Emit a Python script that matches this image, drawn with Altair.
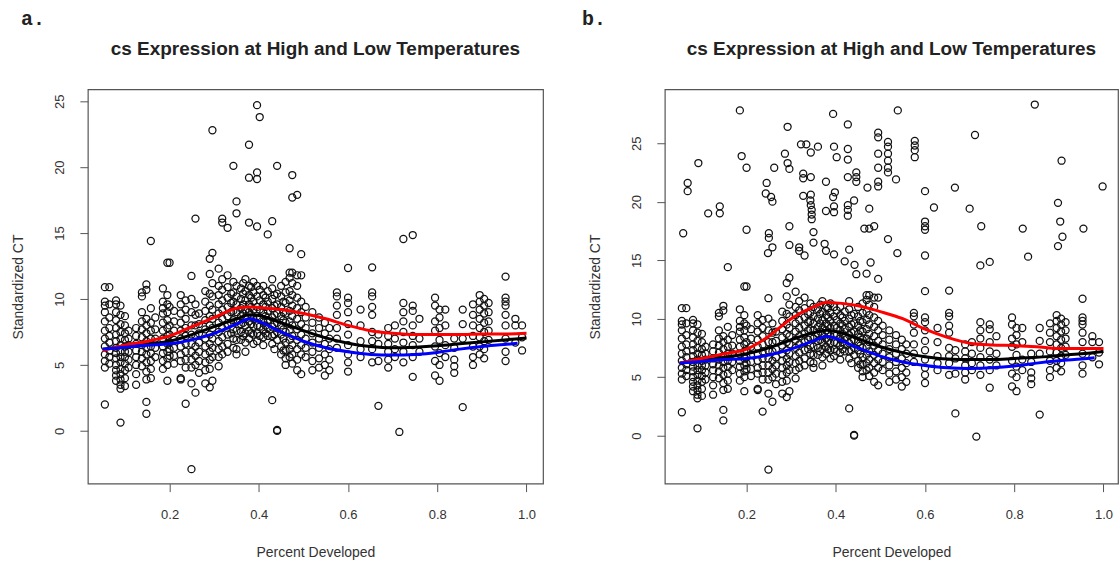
import altair as alt
import pandas as pd

# ---- shared scatter (Percent Developed, [Standardized CT values]) ----
cols_early = [
    (0.055, [10.9, 9.8, 9.5, 9.0, 8.3, 7.6, 7.0, 6.4, 5.8, 5.3, 4.8, 2.0]),
    (0.065, [10.9, 9.6, 8.6, 7.8, 7.2, 6.7, 6.1, 5.6, 5.1]),
    (0.08, [9.9, 9.6, 9.0, 8.4, 7.8, 7.3, 6.8, 6.3, 5.9, 5.5, 5.0, 4.6, 4.2, 3.8]),
    (0.09, [9.5, 8.8, 8.1, 7.5, 7.0, 6.5, 6.0, 5.6, 5.2, 4.7, 4.3, 3.9, 3.5, 3.2, 0.63]),
    (0.1, [8.7, 8.0, 7.4, 6.9, 6.4, 6.0, 5.6, 5.1, 4.6, 4.0, 3.4]),
    (0.108, [7.6, 7.0, 6.5, 6.0, 5.4, 4.8]),
    (0.125, [7.8, 7.2, 6.6, 6.1, 5.6, 5.0, 4.3, 3.5]),
    (0.138, [10.5, 10.2, 9.0, 8.3, 7.7, 7.1, 6.5, 6.0, 5.5, 4.9]),
    (0.148, [11.1, 10.7, 8.5, 8.0, 7.4, 6.8, 6.3, 5.8, 5.2, 4.5, 3.9, 2.2, 1.3]),
    (0.158, [14.4, 9.3, 8.2, 7.6, 7.0, 6.4, 5.9, 5.3, 4.7, 4.0]),
    (0.168, [8.6, 7.7, 7.0, 6.3, 5.6]),
    (0.185, [10.8, 9.8, 9.3, 8.9, 8.2, 7.6, 7.0, 6.4, 5.9, 5.3, 4.7]),
    (0.195, [12.75, 10.3, 9.6, 9.0, 8.4, 7.8, 7.2, 6.6, 6.0, 5.5, 5.0, 3.8]),
]
cols_mid = [
    (0.2, [12.75, 9.4, 8.0, 7.3, 6.7, 6.2, 5.7]),
    (0.21, [9.1, 8.3, 7.6, 6.9, 6.3, 5.7, 5.1]),
    (0.225, [10.3, 9.6, 8.9, 8.2, 7.6, 7.0, 6.4, 5.8, 5.3, 4.0, 3.9]),
    (0.236, [9.9, 9.2, 8.5, 7.8, 7.2, 6.6, 6.0, 5.4, 4.8, 2.06]),
    (0.249, [11.75, 10.0, 9.0, 8.0, 7.3, 6.6, 6.0, 5.4, 4.8, 3.6, -2.9]),
    (0.258, [16.1, 9.6, 8.8, 8.0, 7.2, 6.4, 5.7, 5.0, 2.9]),
    (0.266, [8.9, 8.1, 7.4, 6.7, 6.0, 5.3, 4.4]),
    (0.28, [10.6, 9.8, 9.1, 8.4, 7.7, 7.0, 6.4, 5.8, 5.2, 4.6, 3.6]),
    (0.29, [13.05, 11.9, 10.4, 9.5, 8.7, 8.0, 7.3, 6.6, 6.0, 5.4, 4.7, 3.3]),
    (0.296, [22.8, 13.5, 11.2, 10.2, 9.2, 8.5, 7.8, 7.0, 6.3, 5.6, 3.8]),
    (0.31, [12.3, 11.0, 10.3, 9.6, 8.9, 8.2, 7.5, 6.8, 6.2, 5.6, 4.9]),
    (0.318, [16.1, 15.8, 11.5, 10.7, 9.9, 9.2, 8.5, 7.8, 7.1, 6.4, 5.8]),
    (0.33, [15.4, 11.8, 10.9, 10.1, 9.4, 8.7, 8.0, 7.3, 6.6, 6.0]),
    (0.338, [10.4, 9.7, 9.0, 8.2, 7.4]),
    (0.343, [20.1, 11.3, 10.5, 9.8, 9.1, 8.4, 7.7, 7.0, 6.3]),
    (0.35, [17.4, 16.5, 11.0, 10.2, 9.6, 9.0, 8.3, 7.6, 6.9, 6.2, 5.8]),
    (0.36, [10.8, 10.0, 9.3, 8.7, 8.1, 7.5, 6.9]),
    (0.365, [11.2, 10.4, 9.6, 8.9, 8.2, 7.2]),
    (0.37, [11.5, 10.6, 9.9, 9.2, 8.6, 8.0, 7.4, 6.7, 6.0]),
    (0.378, [21.7, 19.2, 15.8, 11.0, 10.3, 9.6, 9.0, 8.3, 7.6, 7.0]),
    (0.383, [10.9, 10.1, 9.4, 8.8, 8.1, 7.4]),
    (0.388, [11.3, 10.5, 9.8, 9.2, 8.5, 7.9, 7.3, 6.6]),
    (0.396, [24.7, 19.6, 19.1, 15.5, 11.0, 10.2, 9.4, 8.7, 8.0, 7.4, 6.8]),
    (0.402, [23.8, 10.7, 9.9, 9.2, 8.6, 7.9, 7.2]),
]
cols_late = [
    (0.41, [11.0, 10.3, 9.6, 9.0, 8.3, 7.7, 7.1, 6.5]),
    (0.415, [10.1, 9.4, 8.7, 8.0, 7.4]),
    (0.42, [14.9, 10.6, 9.8, 9.1, 8.4, 7.8, 7.2]),
    (0.43, [15.9, 11.5, 10.8, 10.0, 9.3, 8.6, 7.9, 7.2, 6.6, 2.33]),
    (0.435, [10.3, 9.5, 8.8, 8.1, 7.3, 6.2]),
    (0.441, [20.1, 10.4, 9.6, 8.9, 8.2, 7.5, 6.9, 0.07, 0.0]),
    (0.45, [11.0, 10.2, 9.4, 8.7, 8.0, 7.3, 6.4, 5.8]),
    (0.455, [9.8, 9.0, 8.4, 7.7, 7.0, 6.1]),
    (0.46, [11.3, 10.5, 9.7, 8.9, 8.2, 7.5, 6.7, 6.1, 5.5, 5.0]),
    (0.469, [13.85, 12.0, 11.6, 10.6, 9.9, 9.1, 8.3, 7.6, 6.9, 6.2, 5.6]),
    (0.475, [19.4, 17.7, 12.0, 11.2, 10.3, 9.5, 8.7, 8.0, 7.2, 6.5, 5.8, 5.1]),
    (0.486, [17.9, 11.8, 11.0, 10.1, 9.3, 8.5, 7.7, 6.9, 6.2, 5.4, 4.6]),
    (0.495, [13.4, 11.8, 9.8, 9.0, 8.1, 7.3, 6.5, 5.8, 4.3]),
    (0.505, [9.4, 8.6, 7.8, 7.0, 6.3, 5.6]),
    (0.52, [9.0, 8.2, 7.4, 6.7, 6.0, 5.3, 4.6]),
    (0.535, [8.6, 7.8, 7.0, 6.3, 5.5, 4.8]),
    (0.548, [8.2, 7.4, 6.6, 5.8, 5.0, 4.2]),
    (0.558, [7.8, 7.0, 6.2, 5.4, 4.6]),
    (0.575, [10.5, 10.2, 9.5, 8.8, 7.8, 7.0, 6.3]),
    (0.6, [12.35, 10.1, 9.7, 9.0, 8.1, 7.3, 6.5, 5.8, 5.2, 4.5]),
    (0.628, [9.2, 8.0, 6.8, 6.2, 5.6]),
    (0.654, [12.4, 10.5, 10.2, 9.4, 8.8, 7.5, 6.8, 6.2, 5.2]),
    (0.668, [7.3, 6.6, 5.3, 1.9]),
    (0.69, [7.8, 7.2, 6.6, 6.0, 5.4, 4.8]),
]
cols_end = [
    (0.705, [8.0, 7.0, 6.2, 5.6]),
    (0.715, [-0.08]),
    (0.724, [14.55, 9.7, 9.0, 8.3, 7.5, 6.7, 6.0, 5.2]),
    (0.745, [14.85, 9.5, 9.1, 8.0, 7.2, 6.5, 5.6, 4.1]),
    (0.76, [8.5, 7.0, 6.0]),
    (0.795, [10.1, 9.5, 8.3, 7.6, 6.4, 5.3, 4.2]),
    (0.805, [9.2, 8.6, 7.8, 6.9, 5.9, 5.0, 3.8]),
    (0.818, [9.2, 8.0, 6.5, 5.6]),
    (0.838, [7.0, 6.3, 5.4, 4.9, 4.4]),
    (0.857, [9.2, 8.1, 7.0, 1.8]),
    (0.88, [9.6, 8.8, 8.0, 7.2, 6.4, 5.6, 5.0]),
    (0.895, [10.3, 9.8, 9.2, 8.5, 7.8, 7.1, 6.4, 5.8]),
    (0.905, [10.0, 9.5, 8.9, 8.2, 7.5, 6.8, 6.2, 5.5]),
    (0.915, [9.7, 9.0, 8.3, 7.6, 6.9]),
    (0.953, [11.7, 10.1, 9.8, 9.5, 8.8, 8.0, 7.0, 6.0, 5.3]),
    (0.975, [8.5, 8.0, 6.7]),
    (0.99, [8.0, 7.1, 6.1]),
]

# ---- extra high-temperature points only in panel b ----
hi_b_left = [
    (0.058, 17.3), (0.068, 21.6), (0.068, 20.9), (0.092, 23.3), (0.114, 19.0),
    (0.14, 19.6), (0.14, 19.0), (0.185, 27.8), (0.189, 23.9), (0.2, 22.9),
    (0.2, 17.6), (0.243, 20.7), (0.245, 21.6), (0.25, 17.3), (0.25, 16.9),
    (0.248, 15.6), (0.255, 20.4), (0.258, 20.0), (0.262, 22.9), (0.286, 24.1),
    (0.292, 26.4), (0.292, 23.3), (0.296, 17.9), (0.296, 16.3), (0.322, 24.9),
    (0.327, 22.4), (0.327, 22.0), (0.327, 20.5), (0.334, 24.9), (0.344, 24.2),
    (0.344, 22.1), (0.344, 20.6), (0.344, 19.7), (0.346, 19.3), (0.346, 18.9),
    (0.346, 18.5), (0.36, 24.7), (0.375, 16.4), (0.394, 27.5), (0.394, 20.4),
    (0.398, 20.8), (0.427, 26.6), (0.427, 24.5), (0.427, 23.6), (0.427, 22.1),
    (0.427, 19.7), (0.427, 19.3), (0.427, 18.8),
]
hi_b_right = [
    (0.446, 22.5), (0.446, 22.1), (0.446, 21.7), (0.442, 14.6), (0.446, 13.8),
    (0.464, 17.7), (0.471, 21.2), (0.478, 14.8), (0.495, 25.9), (0.495, 25.5),
    (0.495, 24.1), (0.495, 22.9), (0.495, 21.7), (0.495, 21.3), (0.517, 25.1),
    (0.517, 24.7), (0.517, 24.1), (0.517, 23.5), (0.517, 22.9), (0.517, 22.5),
    (0.517, 16.8), (0.535, 21.9), (0.538, 15.6), (0.539, 27.8), (0.577, 25.2),
    (0.577, 24.8), (0.577, 24.4), (0.577, 23.8), (0.6, 20.9), (0.6, 18.3),
    (0.6, 17.9), (0.6, 17.6), (0.6, 15.4), (0.62, 19.5), (0.667, 21.2),
    (0.7, 19.4), (0.712, 25.7), (0.726, 17.9), (0.819, 17.7), (0.831, 15.3),
    (0.846, 28.3), (0.898, 19.9), (0.903, 18.3), (0.908, 17.0), (0.898, 16.2),
    (0.906, 23.5), (0.955, 17.7), (0.998, 21.3),
]

# ---- smoothed curves ----
curve_x = [0.05, 0.1, 0.15, 0.2, 0.25, 0.3, 0.35, 0.38, 0.4, 0.45, 0.5,
           0.55, 0.6, 0.65, 0.7, 0.75, 0.8, 0.85, 0.9, 0.95, 1.0]
blue_y = [6.2, 6.35, 6.5, 6.6, 6.9, 7.4, 8.1, 8.5, 8.3, 7.5, 6.8,
          6.3, 6.0, 5.8, 5.75, 5.8, 5.95, 6.2, 6.4, 6.55, None]
blue_end = (0.98, 6.65)
red_a_y = [6.1, 6.5, 6.8, 7.2, 7.9, 8.6, 9.3, 9.4, 9.35, 9.2, 8.9,
           8.5, 8.0, 7.6, 7.4, 7.3, 7.3, 7.3, 7.35, 7.35, 7.4]
black_a_y = [6.2, 6.4, 6.6, 6.8, 7.3, 7.9, 8.5, 8.8, 8.75, 8.2, 7.6,
             7.05, 6.65, 6.4, 6.3, 6.35, 6.45, 6.6, 6.75, 6.9, 7.05]
red_b_y = [6.2, 6.6, 7.0, 7.4, 8.5, 10.0, 11.0, 11.4, 11.35, 11.1, 10.6,
           10.0, 9.1, 8.4, 7.9, 7.75, 7.7, 7.6, 7.45, 7.45, 7.45]
black_b_y = [6.2, 6.45, 6.7, 7.0, 7.5, 8.2, 8.8, 9.0, 8.9, 8.3, 7.6,
             7.1, 6.75, 6.55, 6.5, 6.5, 6.6, 6.7, 6.85, 7.0, 7.2]

TITLE = "cs Expression at High and Low Temperatures"
FONT = "Liberation Sans"


def cols_to_rows(cols):
    return [(x, y) for x, ys in cols for y in ys]


base_rows = cols_to_rows(cols_early) + cols_to_rows(cols_mid) + cols_to_rows(cols_late) + cols_to_rows(cols_end)
df_a = pd.DataFrame(base_rows, columns=["x", "y"])
df_b = pd.DataFrame(base_rows + hi_b_left + hi_b_right, columns=["x", "y"])


def curve_df(ys, extra=None):
    rows = [(x, y) for x, y in zip(curve_x, ys) if y is not None]
    if extra:
        rows.append(extra)
    return pd.DataFrame(rows, columns=["x", "y"])


def panel(df, red_y, black_y, ydom, width, xdom, tag, tag_x):
    H = 395
    xs = alt.Scale(domain=xdom, nice=False, zero=False)
    ys = alt.Scale(domain=ydom, nice=False, zero=False)
    xaxis = alt.Axis(values=[0.2, 0.4, 0.6, 0.8, 1.0], format=".1f", title="Percent Developed",
                     domain=False, grid=False, tickSize=8, tickColor="#555", labelFontSize=13,
                     labelColor="#333", labelFont=FONT, labelBaseline="middle", labelPadding=23,
                     titleFont=FONT, titleFontSize=14, titleFontWeight="normal", titleColor="#333",
                     titleY=69, titleBaseline="middle", labelFlush=False)
    yaxis = alt.Axis(values=[0, 5, 10, 15, 20, 25], format="d", title="Standardized CT",
                     domain=False, grid=False, tickSize=8, tickColor="#555", labelFontSize=13,
                     labelColor="#333", labelFont=FONT, labelAngle=270, labelAlign="center",
                     labelBaseline="middle", labelPadding=20, titleFont=FONT, titleFontSize=14,
                     titleFontWeight="normal", titleColor="#333", titleAngle=270, titleX=-69,
                     titleY=H / 2, titleAlign="center", titleBaseline="middle", labelFlush=False)
    pts = alt.Chart(df).mark_point(shape="circle", filled=False, size=50, strokeWidth=1.25,
                                   color="#111111", opacity=1).encode(
        x=alt.X("x:Q", scale=xs, axis=xaxis), y=alt.Y("y:Q", scale=ys, axis=yaxis))

    def line(d, color):
        return alt.Chart(d).mark_line(color=color, strokeWidth=3, interpolate="monotone").encode(
            x=alt.X("x:Q", scale=xs), y=alt.Y("y:Q", scale=ys))

    black = line(curve_df(black_y), "#000000")
    red = line(curve_df(red_y), "#ff0000")
    blue = line(curve_df(blue_y, blue_end), "#0000ff")
    label = alt.Chart(pd.DataFrame({"t": [tag]})).mark_text(
        font="Liberation Mono", fontSize=20, fontWeight="bold", align="left",
        baseline="middle", color="#222").encode(
        text="t:N", x=alt.value(tag_x), y=alt.value(-70))
    title = alt.Chart(pd.DataFrame({"t": [TITLE]})).mark_text(
        font=FONT, fontSize=19, fontWeight="bold", align="center",
        baseline="middle", color="#222").encode(
        text="t:N", x=alt.value(width / 2), y=alt.value(-40))
    return alt.layer(pts, black, red, blue, label, title).properties(width=width, height=H)


pa = panel(df_a, red_a_y, black_a_y, [-4.0, 25.9], 456, [0.0168, 1.037], "a.", -67)
pb = panel(df_b, red_b_y, black_b_y, [-4.1, 29.6], 454, [0.0168, 1.0325], "b.", -83)

chart = alt.hconcat(pa, pb, spacing=37).configure_view(stroke="#555", strokeWidth=1.2).properties(
    padding={"left": 11, "top": 8, "right": 0, "bottom": 0}, background="white")

chart.save("out.html", embed_options={"renderer": "svg", "actions": False})
